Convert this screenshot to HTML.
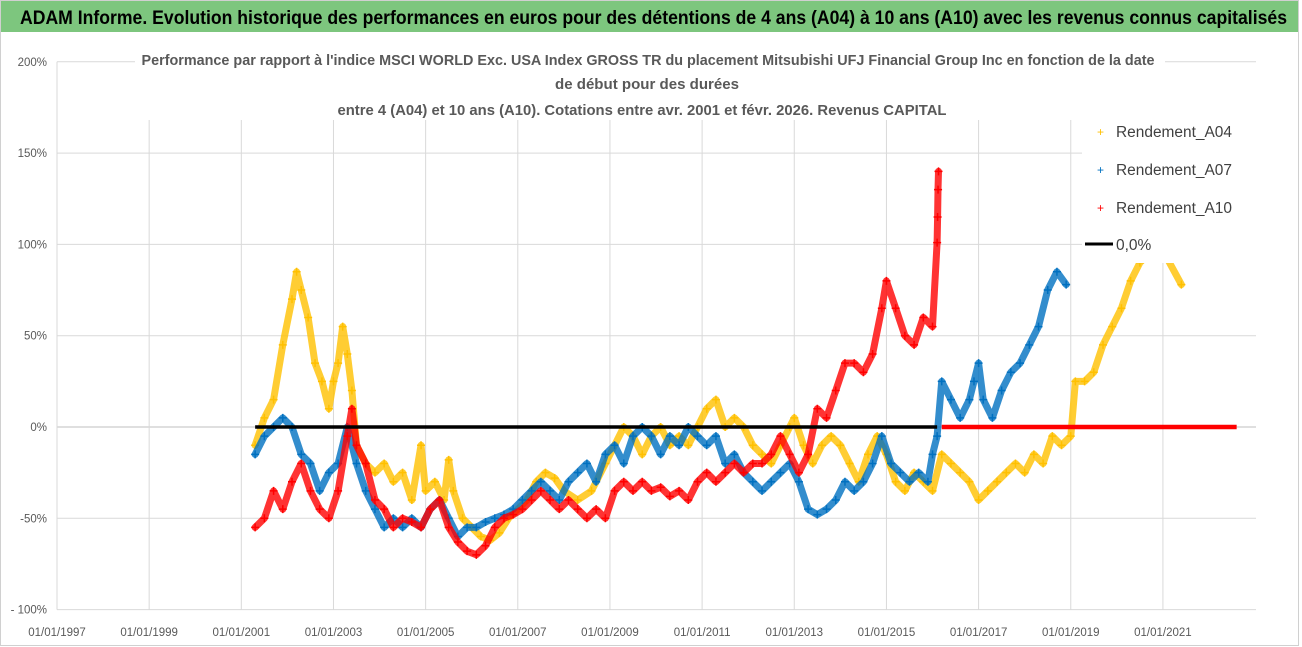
<!DOCTYPE html>
<html><head><meta charset="utf-8">
<style>
html,body{margin:0;padding:0;background:#fff;}
svg{display:block;font-family:"Liberation Sans",sans-serif;}
</style></head>
<body>
<svg id="chart" width="1302" height="647" viewBox="0 0 1302 647" xmlns="http://www.w3.org/2000/svg">
<rect x="0" y="0" width="1302" height="647" fill="#fff"/>
<rect x="0.5" y="0.5" width="1298" height="645" fill="none" stroke="#d0d0d0"/>
<rect x="1" y="1" width="1297" height="31" fill="#7dc67e"/>
<text x="20" y="24" font-size="19" font-weight="bold" fill="#000" textLength="1267" lengthAdjust="spacingAndGlyphs">ADAM Informe. Evolution historique des performances en euros pour des détentions de 4 ans (A04) à 10 ans (A10) avec les revenus connus capitalisés</text>
<g id="grid"></g>
<g id="axes"></g>
<g id="series"></g>
<rect x="135" y="44" width="1030" height="76" fill="#fff"/>
<g font-size="15" font-weight="bold" fill="#595959" text-anchor="middle">
<text x="648" y="65" textLength="1013" lengthAdjust="spacingAndGlyphs">Performance par rapport à l'indice MSCI WORLD Exc. USA Index GROSS TR  du placement Mitsubishi UFJ Financial Group Inc en fonction de la date</text>
<text x="647" y="89" textLength="184" lengthAdjust="spacingAndGlyphs">de début pour des durées</text>
<text x="642" y="115" textLength="609" lengthAdjust="spacingAndGlyphs">entre 4 (A04) et 10 ans (A10). Cotations entre avr. 2001 et févr. 2026. Revenus CAPITAL</text>
</g>
<rect x="1082" y="113" width="176" height="150" fill="#fff"/>
<g font-size="15.5" fill="#404040">
<g><text x="1097" y="136" fill="#ffc000" font-size="12">+</text><text x="1116" y="137" textLength="116" lengthAdjust="spacingAndGlyphs">Rendement_A04</text></g>
<g><text x="1097" y="174" fill="#0070c0" font-size="12">+</text><text x="1116" y="175" textLength="116" lengthAdjust="spacingAndGlyphs">Rendement_A07</text></g>
<g><text x="1097" y="212" fill="#ff0000" font-size="12">+</text><text x="1116" y="213" textLength="116" lengthAdjust="spacingAndGlyphs">Rendement_A10</text></g>
<g><line x1="1085" y1="244" x2="1113" y2="244" stroke="#000" stroke-width="3"/><text x="1116" y="250">0,0%</text></g>
</g>
</svg>
<script>
const yTicks=[200,150,100,50,0,-50,-100];
const yTickLabels=["200%","150%","100%","50%","0%","-50%","- 100%"];
const xTicks=[1997,1999,2001,2003,2005,2007,2009,2011,2013,2015,2017,2019,2021];
const xTickLabels=["01/01/1997","01/01/1999","01/01/2001","01/01/2003","01/01/2005","01/01/2007","01/01/2009","01/01/2011","01/01/2013","01/01/2015","01/01/2017","01/01/2019","01/01/2021"];
const a04Years=[2001.3,2001.5,2001.7,2001.9,2002.1,2002.2,2002.3,2002.45,2002.6,2002.75,2002.9,2003.0,2003.1,2003.2,2003.3,2003.4,2003.5,2003.7,2003.9,2004.1,2004.3,2004.5,2004.7,2004.9,2005.0,2005.2,2005.4,2005.5,2005.6,2005.8,2006.0,2006.2,2006.4,2006.6,2006.8,2007.0,2007.2,2007.4,2007.6,2007.8,2008.0,2008.3,2008.6,2008.9,2009.1,2009.3,2009.5,2009.7,2009.9,2010.1,2010.3,2010.5,2010.7,2010.9,2011.1,2011.3,2011.5,2011.7,2011.9,2012.1,2012.3,2012.5,2012.7,2012.9,2013.0,2013.2,2013.4,2013.6,2013.8,2014.0,2014.2,2014.4,2014.6,2014.8,2015.0,2015.2,2015.4,2015.6,2015.8,2016.0,2016.2,2016.4,2016.6,2016.8,2017.0,2017.2,2017.4,2017.6,2017.8,2018.0,2018.2,2018.4,2018.6,2018.8,2019.0,2019.1,2019.3,2019.5,2019.7,2019.9,2020.1,2020.3,2020.5,2020.7,2021.1,2021.4];
const a04Values=[-10,5,15,45,70,85,75,60,35,25,10,25,35,55,40,20,-10,-20,-25,-20,-30,-25,-40,-10,-35,-30,-40,-18,-35,-50,-55,-60,-62,-58,-50,-45,-40,-30,-25,-28,-35,-40,-35,-20,-10,0,-5,-15,-5,0,-10,-5,-10,0,10,15,0,5,0,-10,-15,-20,-10,0,5,-10,-20,-10,-5,-10,-20,-30,-15,-5,-15,-30,-35,-25,-30,-35,-15,-20,-25,-30,-40,-35,-30,-25,-20,-25,-15,-20,-5,-10,-5,25,25,30,45,55,65,80,90,95,92,78];
const a07Years=[2001.3,2001.5,2001.7,2001.9,2002.1,2002.3,2002.5,2002.7,2002.9,2003.1,2003.3,2003.5,2003.7,2003.9,2004.1,2004.3,2004.5,2004.7,2004.9,2005.1,2005.3,2005.5,2005.7,2005.9,2006.1,2006.3,2006.5,2006.7,2006.9,2007.1,2007.3,2007.5,2007.7,2007.9,2008.1,2008.3,2008.5,2008.7,2008.9,2009.1,2009.3,2009.5,2009.7,2009.9,2010.1,2010.3,2010.5,2010.7,2010.9,2011.1,2011.3,2011.5,2011.7,2011.9,2012.1,2012.3,2012.5,2012.7,2012.9,2013.1,2013.3,2013.5,2013.7,2013.9,2014.1,2014.3,2014.5,2014.7,2014.9,2015.1,2015.3,2015.5,2015.7,2015.9,2016.0,2016.1,2016.2,2016.4,2016.6,2016.8,2016.9,2017.0,2017.1,2017.3,2017.5,2017.7,2017.9,2018.1,2018.3,2018.5,2018.7,2018.9];
const a07Values=[-15,-5,0,5,0,-15,-20,-35,-25,-20,0,-20,-35,-45,-55,-50,-55,-50,-55,-45,-40,-50,-60,-55,-55,-52,-50,-48,-45,-40,-35,-30,-35,-40,-30,-25,-20,-30,-15,-10,-20,-5,0,-5,-15,-5,-10,0,-5,-10,-5,-20,-15,-25,-30,-35,-30,-25,-20,-30,-45,-48,-45,-40,-30,-35,-30,-20,-5,-20,-25,-30,-25,-30,-15,-5,25,15,5,15,25,35,15,5,20,30,35,45,55,75,85,78];
const a10Years=[2001.3,2001.5,2001.7,2001.9,2002.1,2002.3,2002.5,2002.7,2002.9,2003.1,2003.3,2003.4,2003.5,2003.7,2003.9,2004.1,2004.3,2004.5,2004.7,2004.9,2005.1,2005.3,2005.5,2005.7,2005.9,2006.1,2006.3,2006.5,2006.7,2006.9,2007.1,2007.3,2007.5,2007.7,2007.9,2008.1,2008.3,2008.5,2008.7,2008.9,2009.1,2009.3,2009.5,2009.7,2009.9,2010.1,2010.3,2010.5,2010.7,2010.9,2011.1,2011.3,2011.5,2011.7,2011.9,2012.1,2012.3,2012.5,2012.7,2012.9,2013.1,2013.3,2013.5,2013.7,2013.9,2014.1,2014.3,2014.5,2014.7,2014.9,2015.0,2015.2,2015.4,2015.6,2015.8,2016.0,2016.1,2016.11,2016.12,2016.13];
const a10Values=[-55,-50,-35,-45,-30,-20,-35,-45,-50,-35,-5,10,-10,-20,-40,-45,-55,-50,-52,-55,-45,-40,-55,-63,-68,-70,-65,-55,-50,-48,-45,-40,-35,-40,-45,-40,-45,-50,-45,-50,-35,-30,-35,-30,-35,-33,-38,-35,-40,-30,-25,-30,-25,-20,-25,-20,-20,-15,-5,-15,-25,-15,10,5,20,35,35,30,40,65,80,65,50,45,60,55,101,115,130,140];
const a10ZeroRange=[2016.2,2022.6];
const zeroLineRange=[2001.3,2016.1];

const NS="http://www.w3.org/2000/svg";
const X=yr=>57+(yr-1997)*46.08;
const Y=v=>427-v*1.826;
function mk(tag,attrs,parent){const e=document.createElementNS(NS,tag);for(const k in attrs)e.setAttribute(k,attrs[k]);parent.appendChild(e);return e;}
const grid=document.getElementById('grid'),axes=document.getElementById('axes'),series=document.getElementById('series');
yTicks.forEach((t,i)=>{
  const l=mk('line',{x1:57,x2:1256,y1:Y(t),y2:Y(t),stroke:t===0?'#bfbfbf':'#d9d9d9','stroke-width':1},grid);
  
  
  const tx=mk('text',{x:47,y:Y(t)+4,'text-anchor':'end','font-size':11.5,fill:'#595959'},axes);
  tx.textContent=yTickLabels[i];
  
  
});
xTicks.forEach((t,i)=>{
  const l=mk('line',{x1:X(t),x2:X(t),y1:Y(200),y2:Y(-100),stroke:'#d9d9d9','stroke-width':1},grid);
  
  
  const tx=mk('text',{x:X(t),y:636,'text-anchor':'middle','font-size':11.5,fill:'#595959'},axes);
  tx.textContent=xTickLabels[i];
  
  
});
function drawSeries(years,vals,color,name){
  const g=mk('g',{},series);
  
  
  const pts=years.map((y,i)=>X(y).toFixed(1)+','+Y(vals[i]).toFixed(1)).join(' ');
  const pl=mk('polyline',{points:pts,fill:'none',stroke:color,'stroke-width':7,'stroke-opacity':0.8,'stroke-linejoin':'round','stroke-linecap':'round'},g);
  
  
  years.forEach((y,i)=>{
    const cx=X(y),cy=Y(vals[i]);
    const p=mk('path',{d:`M${cx-4},${cy}H${cx+4}M${cx},${cy-4}V${cy+4}`,stroke:color,'stroke-width':1.5},g);
    
    
  });
}
drawSeries(a04Years,a04Values,'#ffc000','series-a04');
drawSeries(a07Years,a07Values,'#0070c0','series-a07');
drawSeries(a10Years,a10Values,'#ff0000','series-a10');
const z=mk('line',{x1:X(zeroLineRange[0]),x2:X(zeroLineRange[1]),y1:Y(0),y2:Y(0),stroke:'#000','stroke-width':3.5},series);


const rz=mk('line',{x1:X(a10ZeroRange[0]),x2:X(a10ZeroRange[1]),y1:Y(0),y2:Y(0),stroke:'#ff0000','stroke-width':4.5},series);


</script>
</body></html>
